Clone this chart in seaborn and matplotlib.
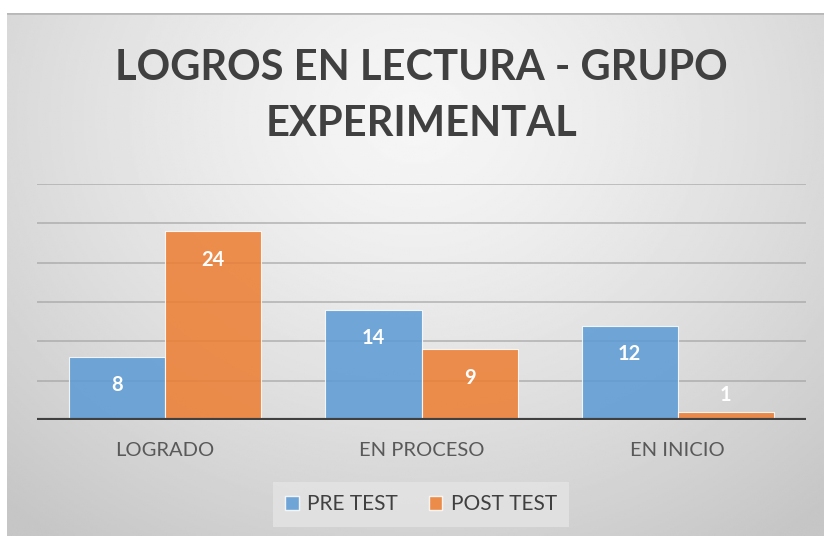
import numpy as np
import pandas as pd
import seaborn as sns
import matplotlib.pyplot as plt
from matplotlib.patches import Patch

categorias = ['LOGRADO', 'EN PROCESO', 'EN INICIO']
pre_test = [8, 14, 12]
post_test = [24, 9, 1]
series = ['PRE TEST', 'POST TEST']
colores = {'PRE TEST': '#5B9BD5', 'POST TEST': '#ED7D31'}

df = pd.DataFrame({
    'categoria': categorias * 2,
    'valor': pre_test + post_test,
    'serie': [series[0]] * 3 + [series[1]] * 3,
})

sns.set_style('white')
plt.rcParams['font.family'] = ['Lato', 'DejaVu Sans']

W, H = 824, 536
fig = plt.figure(figsize=(W / 100, H / 100), dpi=100)
fig.patch.set_facecolor('white')

# fondo con degradado radial tipo Excel
bg = fig.add_axes([7 / W, 0, (W - 7) / W, (H - 13) / H])
yy, xx = np.mgrid[0:1:300j, 0:1:460j]
d = np.sqrt(((xx - 0.5) / 0.75) ** 2 + ((yy - 0.2) / 1.0) ** 2)
d = np.clip(d, 0, 1)
gris = 0.965 - 0.19 * d ** 1.3
bg.imshow(gris, cmap='gray', vmin=0, vmax=1, aspect='auto', extent=[0, 1, 1, 0])
bg.axhline(0, color='#b8b8b8', lw=2)
bg.set_axis_off()

ax = fig.add_axes([37 / W, 1 - 420 / H, (806 - 37) / W, (420 - 184) / H])
ax.set_facecolor('none')
for y in range(5, 31, 5):
    ax.axhline(y, color='#a0a0a0', lw=1.2, alpha=0.7, zorder=0)

sns.barplot(data=df, x='categoria', y='valor', hue='serie', palette=colores,
            width=0.75, saturation=1, alpha=0.85, edgecolor='white',
            linewidth=0.8, ax=ax, legend=False, zorder=2)

ax.axhline(0, color='#404040', lw=3, zorder=3)
ax.set_ylim(0, 30)
ax.set_xlim(-0.5, 2.5)
ax.set_yticks([])
ax.set_xlabel('')
ax.set_ylabel('')
ax.tick_params(axis='x', length=0, pad=16, labelsize=14.5, labelcolor='#595959')
for s in ax.spines.values():
    s.set_visible(False)

# etiquetas de datos
for i, (a, b) in enumerate(zip(pre_test, post_test)):
    for off, v in ((-0.1875, a), (0.1875, b)):
        if v >= 3:
            ax.text(i + off, v - 3.6, str(v), ha='center', va='center',
                    color='white', fontsize=14.5, fontweight='bold', zorder=4)
        else:
            ax.text(i + off, v + 2.2, str(v), ha='center', va='center',
                    color='white', fontsize=14.5, fontweight='bold', zorder=4)

fig.text(421 / W, 1 - 96 / H, 'LOGROS EN LECTURA - GRUPO\nEXPERIMENTAL',
         ha='center', va='center', fontsize=30, fontweight='bold',
         color='#404040', linespacing=1.6)

handles = [Patch(facecolor=colores[s], alpha=0.85, edgecolor='white') for s in series]
leg = fig.legend(handles, series, loc='center', bbox_to_anchor=(421 / W, 1 - 504 / H),
                 ncol=2, frameon=True, fontsize=15, handlelength=0.65, handleheight=0.65,
                 handletextpad=0.4, columnspacing=1.5, borderpad=0.6, fancybox=False)
leg.get_frame().set_facecolor('#e4e4e4')
leg.get_frame().set_edgecolor('none')
for t in leg.get_texts():
    t.set_color('#404040')

fig.savefig('out.png', dpi=100)
